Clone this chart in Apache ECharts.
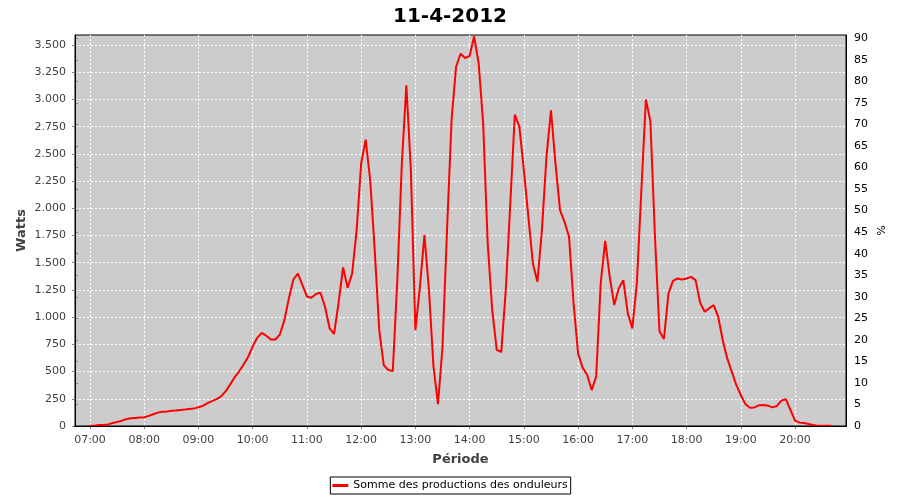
<!DOCTYPE html>
<html>
<head>
<meta charset="utf-8">
<script src="https://cdn.jsdelivr.net/npm/echarts@6/dist/echarts.min.js"></script>
<style>html,body{margin:0;padding:0;background:#fff;}#c{width:900px;height:500px;}</style>
</head>
<body>
<div id="c"></div>
<script>
const chartTitle = '11-4-2012';
const seriesName = 'Somme des productions des onduleurs';
const dayDate = [2012, 3, 11];
const times = [
 '07:00','07:05','07:10','07:15','07:20','07:25','07:30','07:35','07:40','07:45','07:50','07:55',
 '08:00','08:05','08:10','08:15','08:20','08:25','08:30','08:35','08:40','08:45','08:50','08:55',
 '09:00','09:05','09:10','09:15','09:20','09:25','09:30','09:35','09:40','09:45','09:50','09:55',
 '10:00','10:05','10:10','10:15','10:20','10:25','10:30','10:35','10:40','10:45','10:50','10:55',
 '11:00','11:05','11:10','11:15','11:20','11:25','11:30','11:35','11:40','11:45','11:50','11:55',
 '12:00','12:05','12:10','12:15','12:20','12:25','12:30','12:35','12:40','12:45','12:50','12:55',
 '13:00','13:05','13:10','13:15','13:20','13:25','13:30','13:35','13:40','13:45','13:50','13:55',
 '14:00','14:05','14:10','14:15','14:20','14:25','14:30','14:35','14:40','14:45','14:50','14:55',
 '15:00','15:05','15:10','15:15','15:20','15:25','15:30','15:35','15:40','15:45','15:50','15:55',
 '16:00','16:05','16:10','16:15','16:20','16:25','16:30','16:35','16:40','16:45','16:50','16:55',
 '17:00','17:05','17:10','17:15','17:20','17:25','17:30','17:35','17:40','17:45','17:50','17:55',
 '18:00','18:05','18:10','18:15','18:20','18:25','18:30','18:35','18:40','18:45','18:50','18:55',
 '19:00','19:05','19:10','19:15','19:20','19:25','19:30','19:35','19:40','19:45','19:50','19:55',
 '20:00','20:05','20:10','20:15','20:20','20:25','20:30','20:35','20:40'
];
const watts = [
 3,3,9,9,15,28,37,49,62,71,74,77,
 80,93,108,123,130,133,139,142,148,151,157,160,
 173,185,210,228,247,272,318,380,447,503,565,636,
 730,810,855,830,795,795,840,970,1170,1346,1401,1294,
 1190,1178,1212,1224,1095,900,845,1130,1457,1270,1400,1800,
 2411,2630,2258,1616,881,560,514,505,1340,2411,3130,2350,
 880,1279,1753,1248,545,200,728,1800,2809,3300,3420,3380,
 3400,3580,3330,2778,1677,1065,700,680,1250,2044,2860,2750,
 2350,1922,1493,1325,1800,2472,2900,2411,1983,1876,1738,1126,
 667,536,470,330,453,1310,1701,1371,1111,1264,1340,1034,
 897,1310,2166,3000,2800,1750,870,800,1218,1334,1355,1346,
 1355,1370,1340,1133,1050,1081,1111,1004,790,621,499,377,
 285,202,168,171,190,193,187,171,184,233,245,147,
 49,31,28,18,9,3,3,3,3
];
const xStart = '06:43:24';
const xEnd = '20:56:24';
const wattsMax = 3592;
const pctMax = 90.76;

function ts(hms) {
  const p = hms.split(':').map(Number);
  return new Date(dayDate[0], dayDate[1], dayDate[2], p[0], p[1], p[2] || 0).getTime();
}
const seriesData = times.map((t, i) => [ts(t), watts[i]]);
const FONT = 'DejaVu Sans';
const pad = n => (n < 10 ? '0' : '') + n;
const gridSplit = {show: true, showMinLine: false, showMaxLine: false,
  lineStyle: {color: '#ffffff', type: [2, 2], width: 1}};
const borderAxis = {show: true, lineStyle: {color: '#000', width: 1}};

const chart = echarts.init(document.getElementById('c'), null, {renderer: 'canvas'});
chart.setOption({
  animation: false,
  backgroundColor: '#ffffff',
  title: {
    text: chartTitle, left: 'center', top: 2,
    textStyle: {fontFamily: FONT, fontSize: 20, fontWeight: 'bold', color: '#000'}
  },
  legend: {
    data: [seriesName], left: 'center', top: 477,
    icon: 'rect', itemWidth: 16, itemHeight: 3,
    borderColor: '#000', borderWidth: 1, padding: [3, 3, 3, 2],
    textStyle: {fontFamily: FONT, fontSize: 11, color: '#000'}
  },
  grid: {
    left: 75, top: 35, width: 771, height: 391,
    show: true, backgroundColor: '#cccccc', borderColor: '#000', borderWidth: 1
  },
  xAxis: [{
    type: 'time', min: ts(xStart), max: ts(xEnd),
    minInterval: 3600000, maxInterval: 3600000,
    offset: 4,
    name: 'Période', nameLocation: 'middle', nameGap: 23, nameMoveOverlap: false,
    nameTextStyle: {fontFamily: FONT, fontSize: 13, fontWeight: 'bold', color: '#404040'},
    axisLine: {show: true, lineStyle: {color: '#808080', width: 1}},
    axisTick: {show: true, length: 3, lineStyle: {color: '#808080'}},
    axisLabel: {
      fontFamily: FONT, fontSize: 11, color: '#404040', margin: 5,
      showMinLabel: false, showMaxLabel: false, hideOverlap: false,
      formatter: v => { const d = new Date(v); return pad(d.getHours()) + ':' + pad(d.getMinutes()); }
    },
    splitLine: gridSplit
  }, {
    type: 'value', min: 0, max: 1, position: 'top', offset: 0, z: 20,
    axisLine: borderAxis, axisTick: {show: false}, axisLabel: {show: false}, splitLine: {show: false}
  }, {
    type: 'value', min: 0, max: 1, position: 'bottom', offset: 0, z: 20,
    axisLine: borderAxis, axisTick: {show: false}, axisLabel: {show: false}, splitLine: {show: false}
  }],
  yAxis: [{
    type: 'value', min: 0, max: wattsMax, interval: 250, position: 'left', offset: 4,
    name: 'Watts', nameLocation: 'middle', nameGap: 43, nameRotate: 90, nameMoveOverlap: false,
    nameTextStyle: {fontFamily: FONT, fontSize: 13, fontWeight: 'bold', color: '#404040'},
    axisLine: {show: true, lineStyle: {color: '#808080', width: 1}},
    axisTick: {show: true, length: 3, lineStyle: {color: '#808080'}},
    axisLabel: {
      fontFamily: FONT, fontSize: 11, color: '#404040', margin: 5, showMaxLabel: false,
      formatter: v => v >= 1000 ? Math.floor(v / 1000) + '.' + String(v % 1000).padStart(3, '0') : String(v)
    },
    splitLine: gridSplit
  }, {
    type: 'value', min: 0, max: pctMax, interval: 5, position: 'right', offset: 4,
    name: '%', nameLocation: 'middle', nameGap: 24, nameRotate: -90, nameMoveOverlap: false,
    nameTextStyle: {fontFamily: FONT, fontSize: 11, color: '#000'},
    axisLine: {show: true, lineStyle: {color: '#808080', width: 1}},
    axisTick: {show: true, length: 3, lineStyle: {color: '#808080'}},
    axisLabel: {fontFamily: FONT, fontSize: 11, color: '#000', margin: 4, showMaxLabel: false},
    splitLine: {show: false}
  }, {
    type: 'value', min: 0, max: 1, position: 'left', offset: 0, z: 20,
    axisLine: borderAxis, axisTick: {show: false}, axisLabel: {show: false}, splitLine: {show: false}
  }, {
    type: 'value', min: 0, max: 1, position: 'right', offset: 0, z: 20,
    axisLine: borderAxis, axisTick: {show: false}, axisLabel: {show: false}, splitLine: {show: false}
  }],
  series: [{
    name: seriesName, type: 'line', xAxisIndex: 0, yAxisIndex: 0, data: seriesData,
    showSymbol: false, symbol: 'none',
    lineStyle: {color: '#ff0000', width: 2}, itemStyle: {color: '#ff0000'}
  }]
});
</script>
</body>
</html>
